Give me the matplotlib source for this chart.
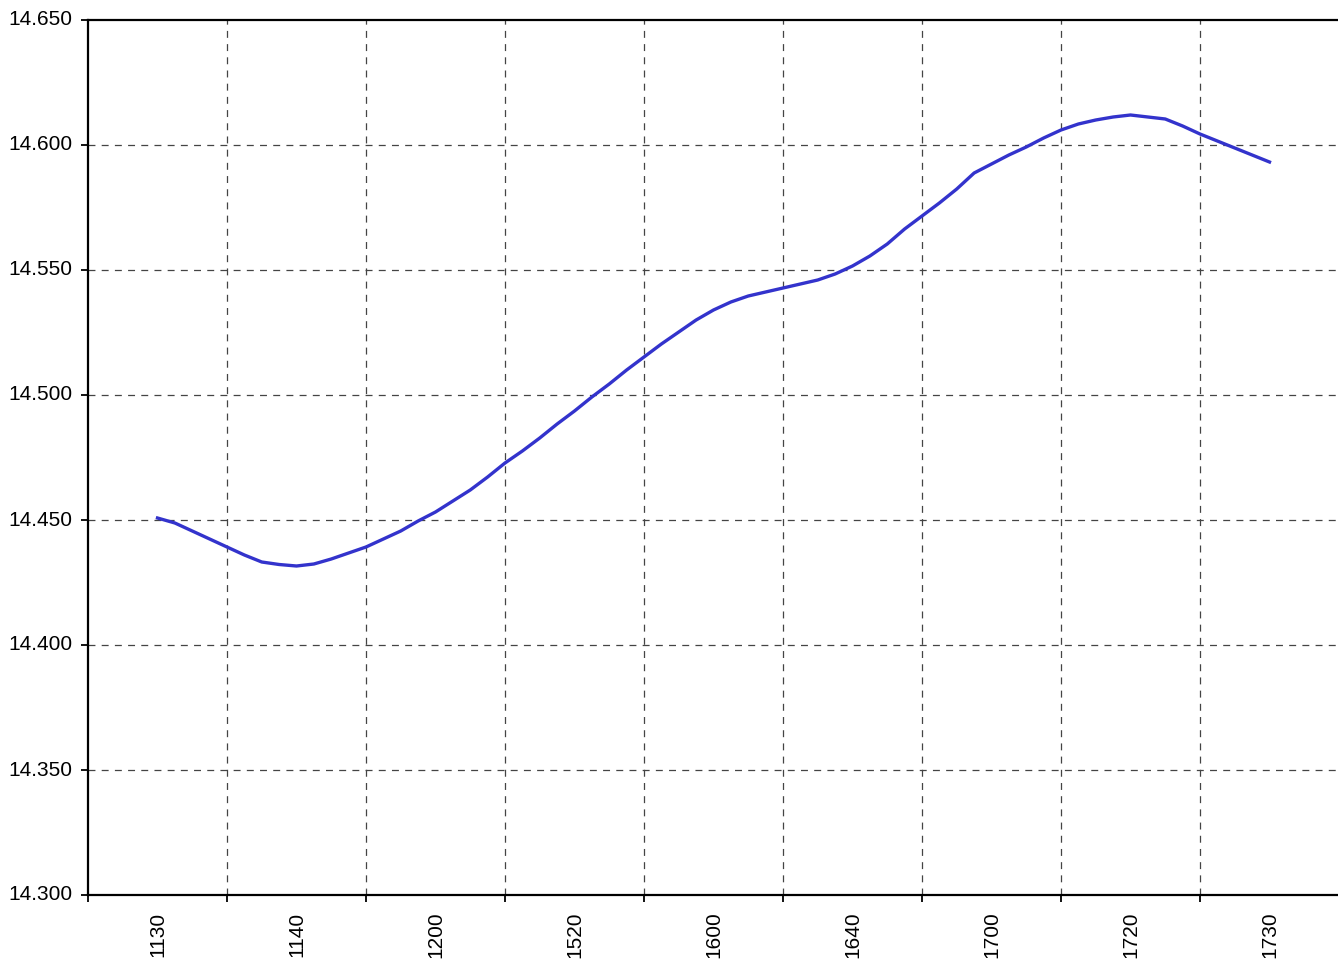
import numpy as np
import matplotlib
matplotlib.use("Agg")
import matplotlib.pyplot as plt
from matplotlib.ticker import FixedLocator, FormatStrFormatter

# category labels (one every 8 readings)
labels = ["1130", "1140", "1200", "1520", "1600", "1640", "1700", "1720", "1730"]
steps_per_label = 8

# readings
values = [
    14.4508, 14.4488, 14.4456, 14.4424, 14.4392, 14.4360, 14.4332, 14.4322,
    14.4316, 14.4324, 14.4344, 14.4368, 14.4392, 14.4424, 14.4456, 14.4496,
    14.4532, 14.4576, 14.4620, 14.4672, 14.4728, 14.4776, 14.4828, 14.4884,
    14.4936, 14.4992, 14.5044, 14.5100, 14.5152, 14.5204, 14.5252, 14.5300,
    14.5340, 14.5372, 14.5396, 14.5412, 14.5428, 14.5444, 14.5460, 14.5484,
    14.5516, 14.5556, 14.5604, 14.5664, 14.5716, 14.5768, 14.5824, 14.5888,
    14.5924, 14.5960, 14.5992, 14.6028, 14.6060, 14.6084, 14.6100, 14.6112,
    14.6120, 14.6112, 14.6104, 14.6076, 14.6044, 14.6016, 14.5988, 14.5960,
    14.5932,
]

y_ticks = [14.30, 14.35, 14.40, 14.45, 14.50, 14.55, 14.60, 14.65]

plt.rcParams['font.family'] = ['Liberation Sans', 'DejaVu Sans']
plt.rcParams['lines.scale_dashes'] = False

fig = plt.figure(figsize=(13.38, 9.6), dpi=100)
ax = fig.add_axes([88 / 1338, 1 - 895 / 960, (1339 - 88) / 1338, (895 - 20) / 960])

x = 0.5 + np.arange(len(values)) / steps_per_label
ax.plot(x, values, color="#3333CC", lw=2.4, solid_joinstyle="round", zorder=3, clip_on=False)

ax.set_xlim(0, len(labels))
ax.set_ylim(14.30, 14.65)

# grid lines
for b in range(1, len(labels)):
    ax.axvline(b, color="#444444", lw=0.9, ls=(0, (5, 4.5)), zorder=1)
for yv in y_ticks[1:-1]:
    ax.axhline(yv, color="#444444", lw=0.9, ls=(0, (5, 4.5)), zorder=1)

ax.xaxis.set_major_locator(FixedLocator(np.arange(len(labels) + 1)))
ax.xaxis.set_minor_locator(FixedLocator(np.arange(len(labels)) + 0.5))
ax.set_xticklabels([], minor=False)
ax.set_xticklabels(labels, minor=True, rotation=90, fontsize=15)
ax.tick_params(axis="x", which="major", direction="out", length=5, width=1.3)
ax.tick_params(axis="x", which="minor", length=0, pad=12)

ax.set_yticks(y_ticks)
ax.yaxis.set_major_formatter(FormatStrFormatter("%.3f"))
ax.tick_params(axis="y", direction="out", length=5, width=1.3, labelsize=15, pad=6)
for lab in ax.get_yticklabels():
    lab.set_verticalalignment("center")

ax.spines["right"].set_visible(False)
for s in ["left", "bottom", "top"]:
    ax.spines[s].set_linewidth(1.6)
    ax.spines[s].set_color("black")

fig.savefig("out.png", dpi=100)
